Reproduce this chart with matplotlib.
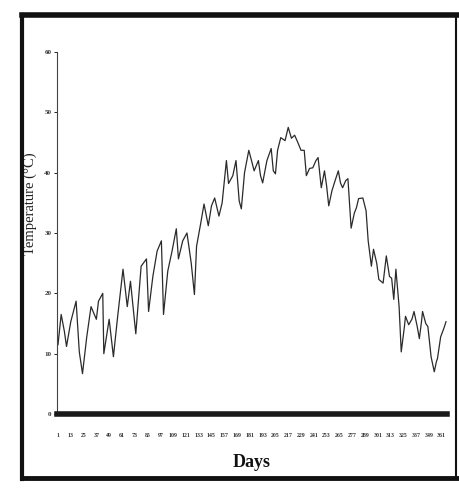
import numpy as np
import matplotlib
matplotlib.use("Agg")
import matplotlib.pyplot as plt
from matplotlib.lines import Line2D

# daily temperature (day of year, deg C)
days = [1, 4, 7, 9, 13, 18, 21, 24, 28, 32, 37, 39, 43, 44, 49, 53, 57, 62, 66, 69,
        74, 79, 84, 86, 90, 94, 98, 100, 104, 108, 112, 114, 118, 122, 126, 129, 131, 135, 138, 142,
        145, 148, 152, 155, 159, 161, 165, 168, 171, 173, 176, 180, 183, 185, 189, 191, 193, 197, 201, 203,
        205, 207, 210, 214, 217, 220, 223, 226, 229, 232, 234, 237, 240, 243, 245, 248, 251, 253, 255, 258,
        261, 264, 266, 268, 271, 273, 276, 279, 281, 283, 287, 290, 292, 295, 297, 300, 302, 306, 309, 312,
        314, 316, 318, 321, 323, 326, 327, 330, 333, 335, 338, 340, 342, 343, 346, 348, 351, 354, 356, 357,
        360, 363, 365]
temps = [11.5, 16.5, 13.7, 11.2, 15.3, 18.7, 10.3, 6.7, 12.8, 17.8, 15.7, 18.7, 20.0, 10.0, 15.7, 9.5, 16.2, 24.0, 17.8, 22.0,
         13.3, 24.5, 25.7, 17.0, 22.8, 27.0, 28.7, 16.5, 23.7, 27.0, 30.7, 25.7, 28.7, 30.0, 25.0, 19.8, 27.8, 31.7, 34.8, 31.2,
         34.5, 35.8, 32.8, 35.0, 42.0, 38.2, 39.5, 42.0, 35.3, 34.0, 40.0, 43.7, 41.7, 40.3, 42.0, 39.5, 38.3, 42.0, 44.0, 40.3,
         39.8, 43.7, 45.8, 45.3, 47.5, 45.7, 46.2, 45.0, 43.7, 43.7, 39.5, 40.7, 40.8, 42.0, 42.5, 37.5, 40.3, 37.8, 34.5, 37.0,
         38.7, 40.3, 38.3, 37.5, 38.7, 39.0, 30.8, 33.3, 34.2, 35.7, 35.8, 33.7, 28.7, 24.5, 27.3, 25.0, 22.3, 21.7, 26.2, 22.8,
         22.5, 19.0, 24.0, 17.8, 10.3, 14.5, 16.2, 14.8, 15.7, 17.0, 14.5, 12.5, 15.3, 17.0, 15.0, 14.5, 9.5, 7.0, 8.7, 9.2,
         12.8, 14.2, 15.3]
xticks = list(range(1, 366, 12))
yticks = [0, 10, 20, 30, 40, 50, 60]

plt.rcParams['font.family'] = ['Liberation Serif', 'DejaVu Serif']

fig = plt.figure(figsize=(4.59, 4.90), dpi=100)
ax = fig.add_axes([0.124, 0.155, 0.850, 0.739])

ax.plot(days, temps, color='#2a2a2a', lw=0.9)

ax.set_xlim(0, 366)
ax.set_ylim(0, 60)
ax.set_xticks(xticks)
ax.set_xticklabels([str(t) for t in xticks], fontsize=4.2, fontweight='bold', color='#333333')
ax.set_yticks(yticks)
ax.set_yticklabels([str(t) for t in yticks], fontsize=5, fontweight='bold', color='#333333')
ax.tick_params(axis='x', length=0, pad=14)
ax.tick_params(axis='y', length=2, width=0.6, pad=2)

for s in ['top', 'right']:
    ax.spines[s].set_visible(False)
ax.spines['left'].set_linewidth(0.8)
ax.spines['left'].set_color('#444444')
ax.spines['bottom'].set_linewidth(4)
ax.spines['bottom'].set_color('#1a1a1a')

ax.set_ylabel('Temperature (°C)', fontsize=10.5, color='#222222')
ax.yaxis.set_label_coords(-0.05, 0.58)
ax.set_xlabel('Days', fontsize=13, fontweight='bold', color='#111111')
ax.xaxis.set_label_coords(0.5, -0.11)

# scanned page frame
frame = [((0.048, 0.996), (0.969, 0.969), 4.0),
         ((0.048, 0.048), (0.022, 0.969), 3.0),
         ((0.048, 0.996), (0.024, 0.024), 3.5),
         ((0.994, 0.994), (0.024, 0.969), 1.5)]
for xs, ys, w in frame:
    fig.add_artist(Line2D(xs, ys, transform=fig.transFigure, color='#111111', lw=w))

fig.savefig('out.png', dpi=100)
